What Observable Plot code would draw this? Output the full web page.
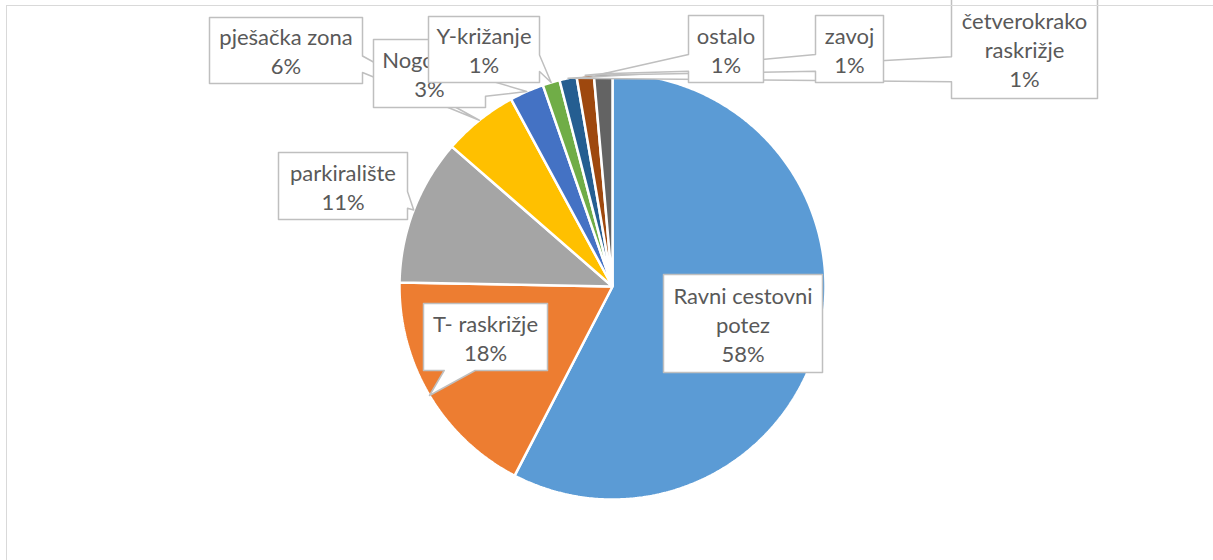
<!DOCTYPE html>
<html>
<head>
<meta charset="utf-8">
<script src="https://cdn.jsdelivr.net/npm/d3@7"></script>
<script src="https://cdn.jsdelivr.net/npm/@observablehq/plot@0.6"></script>
<style>
  html, body { margin: 0; padding: 0; background: #fff; overflow: hidden; }
  #wrap { position: relative; width: 1213px; height: 560px; }
  #frame { position: absolute; left: 6px; top: 5px; width: 1300px; height: 700px;
           border-top: 1.5px solid #d9d9d9; border-left: 1.5px solid #d9d9d9; pointer-events: none; }
</style>
</head>
<body>
<div id="wrap"><div id="chart"></div><div id="frame"></div></div>
<script>
// ---- data ----
const categories = ["Ravni cestovni potez", "T- raskrižje", "parkiralište", "pješačka zona",
  "Nogostup", "Y-križanje", "četverokrako raskrižje", "zavoj", "ostalo"];
const labelLines = ["Ravni cestovni\npotez", "T- raskrižje", "parkiralište", "pješačka zona",
  "Nogostup", "Y-križanje", "četverokrako\nraskrižje", "zavoj", "ostalo"];
const values = [57.6, 17.7, 11.1, 5.7, 2.6, 1.3, 1.3, 1.3, 1.4];
const colors = ["#5B9BD5", "#ED7D31", "#A5A5A5", "#FFC000", "#4472C4", "#70AD47", "#255E91", "#9E480E", "#636363"];

// ---- layout (callout boxes: left, top, right, bottom) ----
const boxes = [
  [663, 274, 822, 372],
  [423, 303, 547, 370],
  [278, 152, 407, 219],
  [209, 17, 362, 83],
  [373, 39, 485, 107],
  [428, 16, 539, 82],
  [951, -2, 1097, 98],
  [815, 15, 883, 82],
  [688, 15, 763, 82]
];
const W = 1213, H = 560;
const CX = 612, CY = 286, R = 213;

const total = d3.sum(values);
let cum = 0;
const slices = values.map((v, i) => {
  const a0 = cum / total * 2 * Math.PI;
  cum += v;
  const a1 = cum / total * 2 * Math.PI;
  return {i, name: categories[i], value: v, a0, a1, color: colors[i]};
});
const pt = (a, r) => [CX + r * Math.sin(a), CY - r * Math.cos(a)];

// slice polygons
const slicePts = slices.map(s => {
  const pts = [{x: CX, y: CY}];
  const n = Math.max(2, Math.ceil((s.a1 - s.a0) / (Math.PI / 360)));
  for (let k = 0; k <= n; k++) {
    const [x, y] = pt(s.a0 + (s.a1 - s.a0) * k / n, R);
    pts.push({x, y});
  }
  return pts;
});

// callout shapes (wedge rectangle)
function callout(box, tip) {
  const [l, t, r, b] = box;
  const w = r - l, h = b - t, hc = (l + r) / 2, vc = (t + b) / 2;
  const [xt, yt] = tip;
  let P;
  if (xt >= l && xt <= r && yt >= t && yt <= b) {
    P = [[l, t], [r, t], [r, b], [l, b]];
  } else {
    const dx = xt - hc, dy = yt - vc;
    if (Math.abs(dy) > Math.abs(dx) * h / w) {
      const x1 = l + w * (dx > 0 ? 7 : 2) / 12, x2 = l + w * (dx > 0 ? 10 : 5) / 12;
      if (dy < 0) P = [[l, t], [x1, t], [xt, yt], [x2, t], [r, t], [r, b], [l, b]];
      else P = [[l, t], [r, t], [r, b], [x2, b], [xt, yt], [x1, b], [l, b]];
    } else {
      const y1 = t + h * (dy > 0 ? 7 : 2) / 12, y2 = t + h * (dy > 0 ? 10 : 5) / 12;
      if (dx < 0) P = [[l, t], [r, t], [r, b], [l, b], [l, y2], [xt, yt], [l, y1]];
      else P = [[l, t], [r, t], [r, y1], [xt, yt], [r, y2], [r, b], [l, b]];
    }
  }
  return P.map(([x, y]) => ({x, y}));
}

const marks = [];
slices.forEach((s, i) => {
  marks.push(Plot.line(slicePts[i], {x: "x", y: "y", curve: "linear-closed",
    fill: s.color, stroke: "#ffffff", strokeWidth: 2.5, strokeLinejoin: "miter"}));
});
slices.forEach((s, i) => {
  const tip = pt((s.a0 + s.a1) / 2, R);
  const box = boxes[i];
  marks.push(Plot.line(callout(box, tip), {x: "x", y: "y", curve: "linear-closed",
    fill: "#ffffff", stroke: "#bfbfbf", strokeWidth: 1.5}));
  marks.push(Plot.text([s], {
    x: () => (box[0] + box[2]) / 2,
    y: () => (box[1] + box[3]) / 2,
    text: d => labelLines[d.i] + "\n" + Math.round(d.value / total * 100) + "%",
    fontSize: 22, lineHeight: 1.31, fill: "#595959", fontFamily: "Lato", textAnchor: "middle"
  }));
});

const chart = Plot.plot({
  width: W, height: H, margin: 0,
  x: {domain: [0, W], range: [0, W], axis: null},
  y: {domain: [0, H], range: [0, H], axis: null},
  style: {background: "transparent", overflow: "visible"},
  marks
});
document.getElementById("chart").appendChild(chart);
</script>
</body>
</html>
